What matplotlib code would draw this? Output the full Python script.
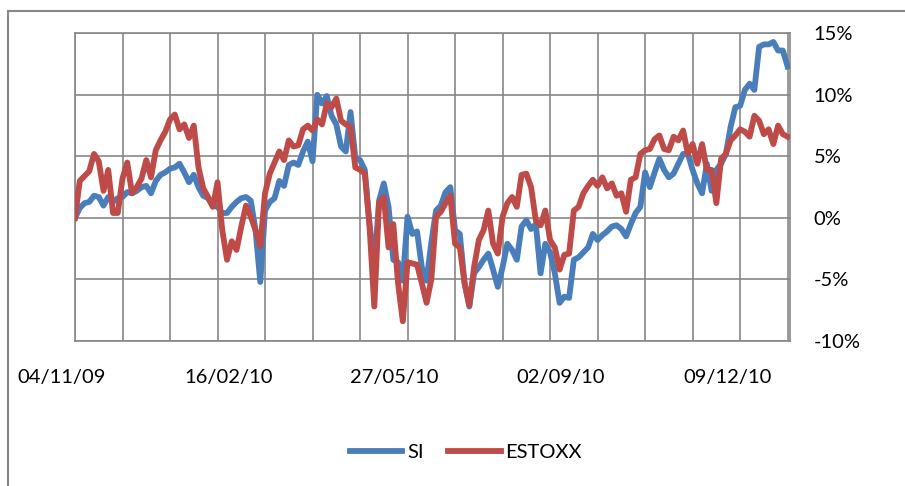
import matplotlib
matplotlib.use("Agg")
import matplotlib.pyplot as plt
import matplotlib.patches as mpatches
import matplotlib.transforms as mtransforms
import numpy as np

# cumulative returns (%), one reading every 2 trading days from 04/11/09
si = [0.0, 0.8, 1.2, 1.3, 1.8, 1.7, 1.0, 1.7, 1.3, 1.6,
      1.7, 2.1, 2.0, 2.2, 2.5, 2.6, 2.0, 3.0, 3.5, 3.7,
      4.0, 4.1, 4.4, 3.7, 2.9, 3.5, 2.5, 1.8, 1.6, 1.0,
      0.9, 0.4, 0.4, 0.9, 1.3, 1.6, 1.7, 1.4, -1.0, -5.2,
      0.6, 1.3, 1.6, 3.0, 2.6, 4.3, 4.5, 4.3, 5.4, 6.2,
      4.6, 10.0, 9.3, 9.9, 8.3, 7.6, 5.8, 5.4, 8.6, 4.9,
      4.7, 3.9, -0.5, -4.0, 1.4, 2.8, 0.9, -3.4, -3.6, -5.1,
      0.1, -1.3, -1.1, -4.0, -5.1, -2.0, 0.6, 1.0, 2.1, 2.5,
      -1.0, -1.3, -5.3, -7.2, -4.5, -4.0, -3.4, -2.9, -4.2, -5.6,
      -4.0, -2.1, -2.6, -3.4, -0.7, -0.2, -0.9, -0.5, -4.5, -2.1,
      -2.8, -4.5, -6.9, -6.4, -6.5, -3.4, -3.2, -2.8, -2.4, -1.3,
      -1.8, -1.4, -1.1, -0.7, -0.6, -0.9, -1.5, -0.5, 0.4, 0.9,
      3.7, 2.5, 3.7, 4.8, 3.9, 3.3, 3.6, 4.4, 5.2, 5.2,
      3.9, 2.8, 2.0, 4.4, 2.2, 3.9, 4.4, 5.2, 7.4, 9.0,
      9.1, 10.4, 10.9, 10.4, 13.9, 14.1, 14.1, 14.3, 13.6, 13.6,
      12.3]
estoxx = [0.0, 3.0, 3.4, 3.8, 5.2, 4.6, 2.2, 3.9, 0.4, 0.4,
          3.2, 4.5, 2.0, 2.5, 3.2, 4.7, 3.3, 5.5, 6.3, 7.0,
          8.0, 8.4, 7.2, 7.6, 6.5, 7.5, 4.1, 2.4, 1.7, 0.9,
          2.9, -1.0, -3.4, -1.9, -2.6, -0.7, 1.0, 0.1, -1.0, -2.3,
          2.0, 3.6, 4.5, 5.4, 4.7, 6.3, 5.8, 5.9, 7.2, 7.5,
          7.1, 8.0, 7.6, 9.3, 9.0, 9.7, 7.9, 7.6, 7.4, 4.1,
          3.9, 3.6, -0.7, -7.2, 1.2, 1.7, -2.4, -0.5, -5.3, -8.4,
          -3.6, -3.7, -3.8, -5.3, -6.9, -5.0, 0.1, 0.5, 1.2, 1.8,
          -2.1, -2.4, -5.3, -7.1, -4.0, -1.8, -1.0, 0.6, -2.1, -2.9,
          0.1, 1.2, 1.7, 0.9, 3.5, 3.6, 2.5, -0.2, -0.6, 0.6,
          -1.8, -2.4, -4.2, -3.0, -2.9, 0.6, 0.9, 2.0, 2.6, 3.1,
          2.6, 3.3, 2.4, 2.8, 1.8, 2.0, 0.5, 3.1, 3.3, 5.2,
          5.5, 5.6, 6.4, 6.7, 5.6, 5.5, 6.6, 6.3, 7.1, 5.2,
          6.0, 4.4, 6.0, 3.9, 3.9, 1.2, 4.8, 5.2, 6.3, 6.7,
          7.2, 7.0, 6.6, 8.3, 7.9, 6.8, 7.2, 6.0, 7.5, 6.8,
          6.6]
tick_labels = ["04/11/09", "16/02/10", "27/05/10", "02/09/10", "09/12/10"]
tick_days = [0, 70, 140, 210, 280]  # trading-day index of each label

days = np.arange(len(si)) * 2

W, H = 905, 486
fig = plt.figure(figsize=(W / 100, H / 100), dpi=100)
plt.rcParams['font.family'] = ['Lato', 'DejaVu Sans']
fs = 14.5

ax = fig.add_axes([75 / W, 1 - 341 / H, (790 - 75) / W, (341 - 33.3) / H])

grid_col = '#878787'
ax.plot(days, si, color='#4a7ebb', lw=4.2, solid_joinstyle='round', label='SI', zorder=3)
ax.plot(days, estoxx, color='#be4b48', lw=4.2, solid_joinstyle='round', label='ESTOXX', zorder=4)

ax.set_xlim(0, 301)
ax.set_ylim(-10, 15)
ax.set_yticks(np.arange(-10, 16, 5))
ax.set_yticklabels([f"{v}%" for v in range(-10, 16, 5)])
ax.yaxis.tick_right()
ax.tick_params(axis='y', length=0, pad=17, labelsize=fs)

for x in range(0, 301, 20):
    ax.axvline(x, color=grid_col, lw=1.2, zorder=1)
for y in range(-10, 16, 5):
    ax.axhline(y, color=grid_col, lw=1.2, zorder=1)

ax.set_xticks(tick_days)
ax.set_xticklabels(tick_labels)
ax.tick_params(axis='x', length=0, pad=20, labelsize=fs)
shift = mtransforms.ScaledTranslation(-13 / 100, 0, fig.dpi_scale_trans)
for lbl in ax.get_xticklabels():
    lbl.set_transform(lbl.get_transform() + shift)

for s in ax.spines.values():
    s.set_color(grid_col)
    s.set_linewidth(1.2)

fig.legend(loc='center', bbox_to_anchor=(466 / W, 1 - 452 / H), ncol=2,
           frameon=False, fontsize=fs, handlelength=2.6, handletextpad=0.25,
           columnspacing=1.2)

# outer chart border
fig.add_artist(mpatches.Rectangle((8 / W, -0.2), 1.2, 1.2 - 11 / H,
                                  transform=fig.transFigure, fill=False,
                                  edgecolor=grid_col, lw=1.5))

fig.savefig("out.png", dpi=100)
